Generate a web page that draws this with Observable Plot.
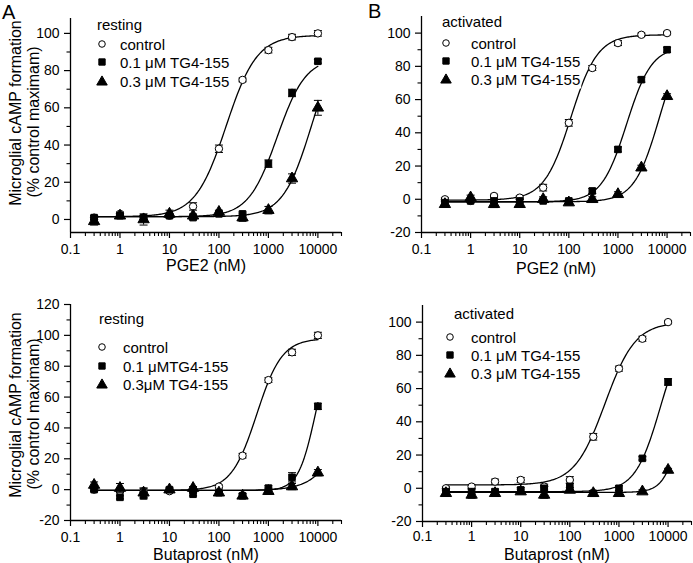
<!DOCTYPE html>
<html><head><meta charset="utf-8">
<script src="https://cdn.jsdelivr.net/npm/d3@7"></script>
<script src="https://cdn.jsdelivr.net/npm/@observablehq/plot@0.6"></script>
<style>
body{margin:0;background:#fff;}
#wrap{position:relative;width:693px;height:563px;background:#fff;font-family:"Liberation Sans",Arial,sans-serif;}
.panel{position:absolute;}
#overlay{position:absolute;left:0;top:0;pointer-events:none;}
</style></head><body><div id="wrap"></div>
<script>
// concentrations (nM)
const conc = [0.3, 1, 3, 10, 30, 100, 300, 1000, 3000, 10000];
const xTickValues = [0.1, 1, 10, 100, 1000, 10000];
const seriesLabelsStd = ["control", "0.1 μM TG4-155", "0.3 μM TG4-155"];
const seriesLabelsC = ["control", "0.1 μMTG4-155", "0.3μM TG4-155"];

// Panel A: resting, PGE2
const A_ctrl = [1, 3, 1, 2, 7, 38, 75, 91, 98, 100];
const A_01   = [1, 2, 1, 2, 1, 3, 3, 30, 68, 85];
const A_03   = [-1, 2, 0, 3, 2, 4, 1, 5, 22, 60];
const A_ctrlErr = [1, 1, 1, 1, 2, 2, 1, 1.5, 1.5, 1.5];
const A_01Err   = [1, 1, 1, 1, 1, 1, 1, 2, 2, 1];
const A_03Err   = [2, 1, 3, 2, 1, 1, 2, 2, 2.5, 4];
// Panel B: activated, PGE2
const B_ctrl = [0, -1, 2, 1, 7, 46, 79, 94, 99, 100];
const B_01   = [-2, -1, -1, -1, -1, -1, 5, 30, 72, 90];
const B_03   = [-3, 1, -3, -3, 0, -2, 0, 3, 19, 62];
const B_ctrlErr = [1, 1, 1, 1, 2, 2, 1.5, 1.5, 1, 1];
const B_01Err   = [1, 1, 1, 1, 1, 1, 1.5, 1.5, 1.5, 1.5];
const B_03Err   = [1.5, 1.5, 2, 1.5, 1.5, 1.5, 1.5, 1.5, 1.5, 1.5];
// Panel C: resting, Butaprost
const C_ctrl = [0, -1, -1, -1, -1, 2, 22, 71, 89, 100];
const C_01   = [0, -5, -4, 0, -3, -2, -4, 1, 8, 54];
const C_03   = [3, 1, -2, 0, 1, -2, -4, -1, 2, 11];
const C_ctrlErr = [1, 1, 2, 1, 1, 1, 1.5, 1.5, 2, 2];
const C_01Err   = [1, 1, 2, 1, 1, 1, 1.5, 1.5, 3, 2];
const C_03Err   = [2, 3, 3, 1, 1, 1, 1, 2, 2, 2];
// Panel D: activated, Butaprost
const D_ctrl = [0, 1, 4, 5, 1, 5, 31, 72, 90, 100];
const D_01   = [-2, -2, -2, -1, 0, 1, -3, 0, 18, 64];
const D_03   = [-3, -4, -3, -2, -4, -1, -3, -3, -2, 11];
const D_ctrlErr = [1, 1, 1.5, 1.5, 1.5, 2, 2, 1.5, 1.5, 1];
const D_01Err   = [1.5, 1.5, 1.5, 1.5, 1.5, 2, 1.5, 1.5, 1, 2];
const D_03Err   = [1.5, 2, 1.5, 1.5, 2, 1.5, 1.5, 1.5, 1, 1];

// fitted sigmoid parameters [bottom, top, EC50 (nM), Hill slope]
const A_fits = [[1.5, 99, 140, 1.4], [1.5, 87, 1500, 1.5], [1.5, 100, 7500, 1.5]];
const B_fits = [[-0.5, 99, 110, 1.6], [-1.5, 92, 1500, 1.7], [-1.5, 100, 7000, 1.7]];
const C_fits = [[-0.5, 98, 580, 1.7], [-0.5, 100, 9000, 2.5], [-0.5, 100, 45000, 1.4]];
const D_fits = [[2, 100, 520, 1.4], [-2, 100, 7000, 1.7], [-2.5, 100, 21000, 2.5]];

const capSymbol = {draw(ctx) { ctx.moveTo(-4, 0); ctx.lineTo(4, 0); }};
const symbolNames = ["circle", "square", "triangle"];
const symbolFills = ["white", "black", "black"];

const panels = [
  {id: "A", left: 0, top: 0, width: 347, height: 280, mL: 70, mR: 6, mT: 18, mB: 48,
   yDomain: [-7, 108], yTicks: [0, 20, 40, 60, 80, 100], yMinor: [10, 30, 50, 70, 90],
   values: [A_ctrl, A_01, A_03], errs: [A_ctrlErr, A_01Err, A_03Err], fits: A_fits,
   xLabel: "PGE2 (nM)", xDy: 33, xPad: 6},
  {id: "B", left: 346, top: 0, width: 347, height: 280, mL: 75, mR: 3, mT: 16, mB: 48,
   yDomain: [-20, 110], yTicks: [-20, 0, 20, 40, 60, 80, 100], yMinor: [-10, 10, 30, 50, 70, 90],
   values: [B_ctrl, B_01, B_03], errs: [B_ctrlErr, B_01Err, B_03Err], fits: B_fits,
   xLabel: "PGE2 (nM)", xDy: 36, xPad: 6},
  {id: "C", left: 0, top: 280, width: 347, height: 283, mL: 70, mR: 6, mT: 24, mB: 43,
   yDomain: [-20, 120], yTicks: [-20, 0, 20, 40, 60, 80, 100, 120], yMinor: [-10, 10, 30, 50, 70, 90, 110],
   values: [C_ctrl, C_01, C_03], errs: [C_ctrlErr, C_01Err, C_03Err], fits: C_fits,
   xLabel: "Butaprost (nM)", xDy: 34, xPad: 6},
  {id: "D", left: 346, top: 280, width: 347, height: 283, mL: 76, mR: 2, mT: 25, mB: 42,
   yDomain: [-20, 110], yTicks: [-20, 0, 20, 40, 60, 80, 100], yMinor: [-10, 10, 30, 50, 70, 90],
   values: [D_ctrl, D_01, D_03], errs: [D_ctrlErr, D_01Err, D_03Err], fits: D_fits,
   xLabel: "Butaprost (nM)", xDy: 33, xPad: 4}
];

const xMinor = [];
for (let dec = 0.1; dec < 20000; dec *= 10) for (let k = 2; k <= 9; k++) { const v = +(dec * k).toPrecision(3); if (v <= 30000) xMinor.push(v); }

const wrap = document.getElementById("wrap");

panels.forEach(cfg => {
  const marks = [];
  // fitted curves
  cfg.fits.forEach(p => {
    const lo = Math.log10(conc[0]), hi = Math.log10(conc[conc.length - 1]);
    const pts = d3.range(0, 201).map(j => { const x = Math.pow(10, lo + (hi - lo) * j / 200); return {x, y: p[0] + (p[1] - p[0]) / (1 + Math.pow(p[2] / x, p[3]))}; });
    marks.push(Plot.line(pts, {x: "x", y: "y", stroke: "black", strokeWidth: 1.3, curve: "linear"}));
  });
  cfg.values.forEach((vals, si) => {
    const rows = vals.map((v, i) => ({x: conc[i], y: v, e: cfg.errs[si][i]}));
    marks.push(Plot.ruleX(rows, {x: "x", y1: d => d.y - d.e, y2: d => d.y + d.e, stroke: "black", strokeWidth: 1}));
    marks.push(Plot.dot(rows, {x: "x", y: d => d.y + d.e, symbol: capSymbol, stroke: "black", fill: "none", strokeWidth: 1}));
    marks.push(Plot.dot(rows, {x: "x", y: d => d.y - d.e, symbol: capSymbol, stroke: "black", fill: "none", strokeWidth: 1}));
    marks.push(Plot.dot(rows, {x: "x", y: "y", symbol: symbolNames[si], r: si === 2 ? 4.2 : 3.7, fill: symbolFills[si], stroke: "black", strokeWidth: 1}));
  });
  // axes
  marks.push(Plot.ruleX([0.1], {stroke: "black", strokeWidth: 1.3}));
  marks.push(Plot.ruleY([cfg.yDomain[0]], {stroke: "black", strokeWidth: 1.3}));
  marks.push(Plot.axisY({ticks: cfg.yTicks, tickSize: 6, tickPadding: 5, label: null, tickFormat: d => String(d), strokeWidth: 1.2}));
  marks.push(Plot.axisY({ticks: cfg.yMinor, tickSize: 3.5, label: null, tickFormat: () => "", strokeWidth: 1.1}));
  marks.push(Plot.axisX({ticks: xTickValues, tickSize: 6, tickPadding: cfg.xPad, label: null, tickFormat: d => d < 1 ? "0.1" : d3.format("d")(d), strokeWidth: 1.2}));
  marks.push(Plot.axisX({ticks: xMinor, tickSize: 4, label: null, tickFormat: () => "", strokeWidth: 1.1}));
  marks.push(Plot.text([cfg.xLabel], {text: d => d, frameAnchor: "bottom", dy: cfg.xDy, fontSize: 16, lineAnchor: "middle", fill: "black"}));

  const chart = Plot.plot({
    width: cfg.width, height: cfg.height,
    marginLeft: cfg.mL, marginRight: cfg.mR, marginTop: cfg.mT, marginBottom: cfg.mB,
    x: {type: "log", domain: [0.1, 30000]},
    y: {domain: cfg.yDomain},
    style: {fontFamily: "'Liberation Sans', Arial, sans-serif", fontSize: "14px", color: "black", background: "white", overflow: "visible"},
    marks
  });
  const div = document.createElement("div");
  div.className = "panel";
  div.style.left = cfg.left + "px"; div.style.top = cfg.top + "px";
  div.appendChild(chart);
  wrap.appendChild(div);
});

// overlay: panel letters, y titles, legends
const svg = d3.select(wrap).append("svg").attr("id", "overlay").attr("width", 693).attr("height", 563)
  .style("font-family", "'Liberation Sans', Arial, sans-serif");
svg.append("text").attr("x", 2).attr("y", 19).attr("font-size", 20).text("A");
svg.append("text").attr("x", 368).attr("y", 18).attr("font-size", 20).text("B");

const yTitles = [
  {x: 15, y: 113, t: "Microglial cAMP formation"}, {x: 33, y: 122, t: "(% control maximam)"},
  {x: 15, y: 405, t: "Microglial cAMP formation"}, {x: 33, y: 414, t: "(% control maximam)"}
];
yTitles.forEach(d => svg.append("text").attr("transform", `translate(${d.x},${d.y}) rotate(-90)`)
  .attr("text-anchor", "middle").attr("dominant-baseline", "central").attr("font-size", 16).text(d.t));

const legends = [
  {title: "resting", tx: 97, ty: 24, sx: 102, lx: 120, rows: [44, 62, 81], labels: seriesLabelsStd},
  {title: "activated", tx: 442, ty: 21, sx: 446, lx: 471, rows: [43, 61, 79], labels: seriesLabelsStd},
  {title: "resting", tx: 99, ty: 318, sx: 102, lx: 123, rows: [347, 366, 384], labels: seriesLabelsC},
  {title: "activated", tx: 454, ty: 313, sx: 450, lx: 471, rows: [337, 355, 373], labels: seriesLabelsStd}
];
legends.forEach(L => {
  const g = svg.append("g");
  const bg = g.append("rect").attr("fill", "white");
  const inner = g.append("g");
  inner.append("text").attr("x", L.tx).attr("y", L.ty).attr("dominant-baseline", "central").attr("font-size", 15).text(L.title);
  L.rows.forEach((ry, i) => {
    const sym = d3.symbol().type([d3.symbolCircle, d3.symbolSquare, d3.symbolTriangle][i]).size(i === 0 ? 34 : (i === 1 ? 40 : 48));
    inner.append("path").attr("d", sym()).attr("transform", `translate(${L.sx},${ry + (i === 2 ? 1 : 0)})`)
      .attr("fill", symbolFills[i]).attr("stroke", "black").attr("stroke-width", 1);
    inner.append("text").attr("x", L.lx).attr("y", ry).attr("dominant-baseline", "central").attr("font-size", 15).text(L.labels[i]);
  });
  const bb = inner.node().getBBox();
  bg.attr("x", bb.x - 1).attr("y", bb.y - 1).attr("width", bb.width + 2).attr("height", bb.height + 2);
});
</script></body></html>
